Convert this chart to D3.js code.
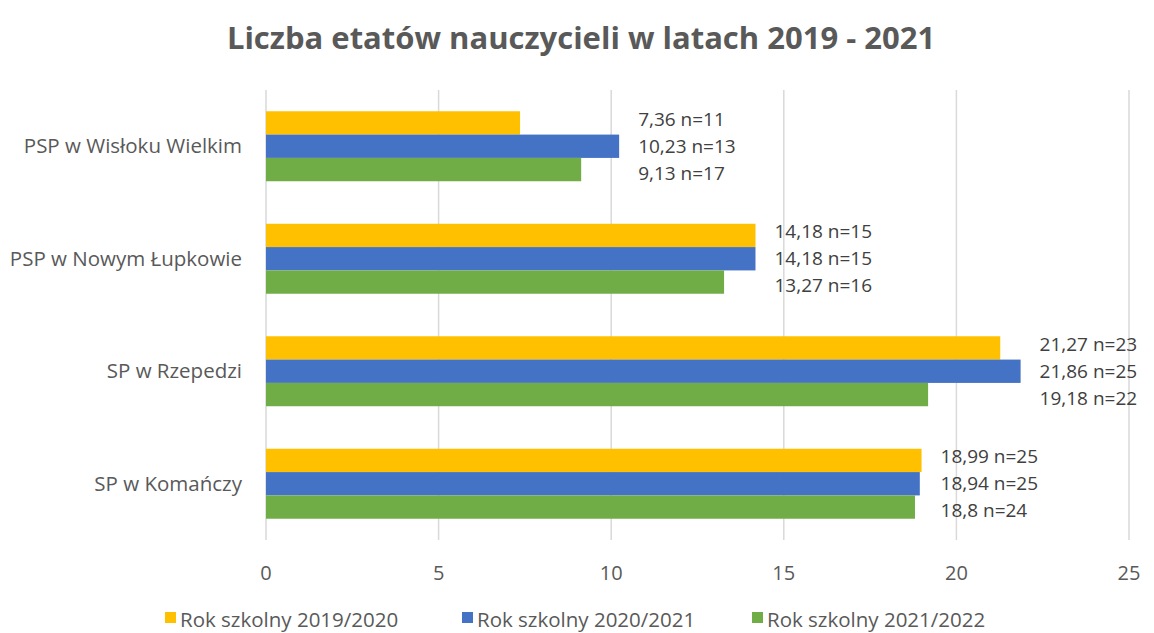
<!DOCTYPE html>
<html>
<head>
<meta charset="utf-8">
<script src="https://cdn.jsdelivr.net/npm/d3@7"></script>
<style>
  body { margin: 0; background: #fff; }
  text { font-family: "Open Sans", "Noto Sans", sans-serif; }
</style>
</head>
<body>
<svg id="chart" width="1154" height="633"></svg>
<script>
// data
var schools = ["PSP w Wisłoku Wielkim", "PSP w Nowym Łupkowie", "SP w Rzepedzi", "SP w Komańczy"];
var seriesNames = ["Rok szkolny 2019/2020", "Rok szkolny 2020/2021", "Rok szkolny 2021/2022"];
var etaty2019 = [7.36, 14.18, 21.27, 18.99];
var etaty2020 = [10.23, 14.18, 21.86, 18.94];
var etaty2021 = [9.13, 13.27, 19.18, 18.8];
var n2019 = [11, 15, 23, 25];
var n2020 = [13, 15, 25, 25];
var n2021 = [17, 16, 22, 24];
var xTicks = [0, 5, 10, 15, 20, 25];

var colors = ["#FFC000", "#4472C4", "#70AD47"];
var values = [etaty2019, etaty2020, etaty2021];
var counts = [n2019, n2020, n2021];

var svg = d3.select("#chart"),
    margin = {top: 90, right: 25, bottom: 93, left: 266},
    width = 1154 - margin.left - margin.right,
    height = 633 - margin.top - margin.bottom;

var fmt = function(v) { return String(v).replace(".", ","); };

var x = d3.scaleLinear().domain([0, 25]).range([0, width]);
var y0 = d3.scaleBand().domain(schools).range([0, height]).paddingInner(0.378).paddingOuter(0.189);
var y1 = d3.scaleBand().domain(d3.range(3)).range([0, y0.bandwidth()]);

var g = svg.append("g").attr("transform", "translate(" + margin.left + "," + margin.top + ")");

// title
svg.append("text")
  .attr("x", 581).attr("y", 49)
  .attr("text-anchor", "middle")
  .style("font-size", "31px").style("font-weight", "bold").style("fill", "#595959")
  .text("Liczba etatów nauczycieli w latach 2019 - 2021");

// grid
g.selectAll(".grid").data(xTicks).enter().append("line")
  .attr("x1", function(d) { return x(d); }).attr("x2", function(d) { return x(d); })
  .attr("y1", 0).attr("y2", height)
  .style("stroke", "#d9d9d9").style("stroke-width", 1.5);

// x axis labels
g.selectAll(".xt").data(xTicks).enter().append("text")
  .attr("x", function(d) { return x(d); }).attr("y", height + 40)
  .attr("text-anchor", "middle")
  .style("font-size", "20px").style("fill", "#595959")
  .text(function(d) { return d; });

// category labels
g.selectAll(".cat").data(schools).enter().append("text")
  .attr("x", -24).attr("y", function(d) { return y0(d) + y0.bandwidth() / 2; })
  .attr("dy", "0.35em").attr("text-anchor", "end")
  .style("font-size", "20.5px").style("fill", "#595959")
  .text(function(d) { return d; });

// bars + labels
var groups = g.selectAll(".grp").data(schools).enter().append("g")
  .attr("transform", function(d) { return "translate(0," + y0(d) + ")"; });

var labelStep = 27;
groups.each(function(school, i) {
  var gg = d3.select(this);
  var maxV = d3.max(values, function(s) { return s[i]; });
  values.forEach(function(s, k) {
    gg.append("rect")
      .attr("x", 0).attr("y", y1(k))
      .attr("width", x(s[i])).attr("height", y1.bandwidth())
      .style("fill", colors[k]);
    gg.append("text")
      .attr("x", x(maxV) + 19).attr("y", y0.bandwidth() / 2 + (k - 1) * labelStep)
      .attr("dy", "0.35em")
      .style("font-size", "19px").style("fill", "#404040")
      .text(fmt(s[i]) + " n=" + counts[k][i]);
  });
});

// legend
var legend = svg.append("g").attr("transform", "translate(0,627)");
var lx = [165, 462, 752];
seriesNames.forEach(function(name, k) {
  legend.append("rect").attr("x", lx[k]).attr("y", -15).attr("width", 11).attr("height", 11).style("fill", colors[k]);
  legend.append("text").attr("x", lx[k] + 15).attr("y", 0)
    .style("font-size", "20.5px").style("fill", "#595959").text(name);
});
</script>
</body>
</html>
